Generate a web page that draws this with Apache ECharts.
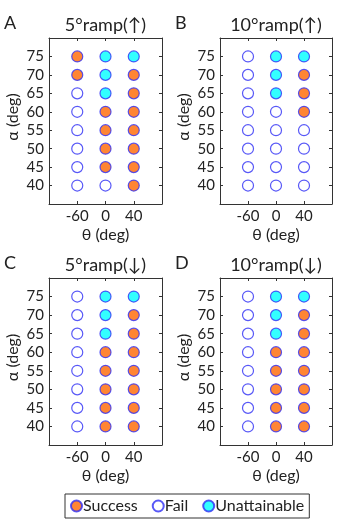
<!DOCTYPE html>
<html>
<head>
<meta charset="utf-8">
<script src="https://cdn.jsdelivr.net/npm/echarts@6/dist/echarts.min.js"></script>
<style>
  html, body { margin: 0; padding: 0; background: #fff; }
  #chart { width: 339px; height: 526px; }
</style>
</head>
<body>
<div id="chart"></div>
<script>
// rows (alpha, deg) and columns (theta, deg)
const alphaValues = [75, 70, 65, 60, 55, 50, 45, 40];
const thetaLabels = ["-60", "0", "40"];
const statusNames = { S: "Success", F: "Fail", U: "Unattainable" };

// outcome per theta column, listed top (75) to bottom (40)
const rampUp5 = [
  ["S", "S", "F", "F", "F", "F", "F", "F"],
  ["U", "U", "U", "S", "S", "S", "S", "F"],
  ["U", "S", "S", "S", "S", "S", "S", "S"],
];
const rampUp10 = [
  ["F", "F", "F", "F", "F", "F", "F", "F"],
  ["U", "U", "U", "F", "F", "F", "F", "F"],
  ["U", "S", "S", "S", "F", "F", "F", "F"],
];
const rampDown5 = [
  ["F", "F", "F", "F", "F", "F", "F", "F"],
  ["U", "U", "U", "S", "S", "S", "S", "S"],
  ["U", "S", "S", "S", "S", "S", "S", "S"],
];
const rampDown10 = [
  ["F", "F", "F", "F", "F", "F", "F", "F"],
  ["U", "U", "U", "S", "S", "S", "S", "S"],
  ["U", "S", "S", "S", "S", "S", "S", "S"],
];

const panelTitles = ["5°ramp(↑)", "10°ramp(↑)", "5°ramp(↓)", "10°ramp(↓)"];
const panelLetters = ["A", "B", "C", "D"];
const panelData = [rampUp5, rampUp10, rampDown5, rampDown10];

const FONT = "Lato";
const TXT = "#222";
const EDGE = "#2e2ef5";
const markStyle = {
  Success: { color: "#ff6600", borderColor: EDGE, borderWidth: 1.2 },
  Fail: { color: "#ffffff", borderColor: EDGE, borderWidth: 1.2 },
  Unattainable: { color: "#00ffff", borderColor: EDGE, borderWidth: 1.2 },
};

// plot boxes [left, top, width, height]
const boxes = [
  [49, 38, 113, 166],
  [220, 38, 112, 166],
  [49, 278, 113, 167],
  [220, 278, 112, 167],
];

const grids = [], xAxes = [], yAxes = [], series = [], titles = [], graphics = [];

boxes.forEach((b, i) => {
  grids.push({ left: b[0], top: b[1], width: b[2], height: b[3] });
  const tick = { show: true, inside: true, length: 3, lineStyle: { color: "#333" } };
  const line = { show: true, onZero: false, lineStyle: { color: "#333", width: 1 } };
  // bottom + mirrored top
  xAxes.push({
    type: "value", gridIndex: i, min: -1, max: 3, interval: 1, position: "bottom",
    axisLine: line, axisTick: tick, splitLine: { show: false },
    axisLabel: {
      color: TXT, fontFamily: FONT, fontSize: 15, margin: 5,
      formatter: (v) => thetaLabels[v] || "",
    },
  });
  xAxes.push({
    type: "value", gridIndex: i, min: -1, max: 3, interval: 1, position: "top",
    axisLine: line, axisTick: tick, splitLine: { show: false }, axisLabel: { show: false },
  });
  // left + mirrored right
  yAxes.push({
    type: "value", gridIndex: i, min: 35, max: 80, interval: 5, position: "left",
    axisLine: line, axisTick: tick, splitLine: { show: false },
    axisLabel: {
      color: TXT, fontFamily: FONT, fontSize: 15, margin: 5,
      showMinLabel: false, showMaxLabel: false,
    },
  });
  yAxes.push({
    type: "value", gridIndex: i, min: 35, max: 80, interval: 5, position: "right",
    axisLine: line, axisTick: tick, splitLine: { show: false }, axisLabel: { show: false },
  });

  // one scatter series per outcome
  const buckets = { Success: [], Fail: [], Unattainable: [] };
  panelData[i].forEach((col, c) => {
    col.forEach((s, r) => buckets[statusNames[s]].push([c, alphaValues[r]]));
  });
  Object.keys(buckets).forEach((name) => {
    series.push({
      name, type: "scatter", xAxisIndex: i * 2, yAxisIndex: i * 2,
      symbol: "circle", symbolSize: 11,
      itemStyle: markStyle[name], data: buckets[name],
    });
  });

  const cx = b[0] + b[2] / 2;
  titles.push({
    text: panelTitles[i], left: cx, top: b[1] - 22, textAlign: "center", padding: 0,
    textStyle: { fontFamily: FONT, fontSize: 18, fontWeight: "normal", color: TXT },
  });
  titles.push({
    text: panelLetters[i], left: b[0] - 45, top: b[1] - 24, padding: 0,
    textStyle: { fontFamily: FONT, fontSize: 18, fontWeight: "normal", color: TXT },
  });
  graphics.push({
    type: "text", x: cx, y: b[1] + b[3] + 31,
    style: { text: "θ (deg)", fontFamily: FONT, fontSize: 16, fill: TXT, align: "center", verticalAlign: "middle" },
  });
  graphics.push({
    type: "text", x: b[0] - 36, y: b[1] + b[3] / 2 - 4, rotation: Math.PI / 2,
    style: { text: "α (deg)", fontFamily: FONT, fontSize: 16, fill: TXT, align: "center", verticalAlign: "middle" },
  });
});

const chart = echarts.init(document.getElementById("chart"));
chart.setOption({
  animation: false,
  title: titles,
  grid: grids,
  xAxis: xAxes,
  yAxis: yAxes,
  series,
  graphic: graphics,
  legend: {
    data: ["Success", "Fail", "Unattainable"],
    left: 65, top: 494,
    icon: "circle", itemWidth: 11, itemHeight: 11, itemGap: 14,
    padding: [4, 5, 4, 5],
    borderColor: "#333", borderWidth: 1,
    textStyle: { fontFamily: FONT, fontSize: 16, color: TXT, padding: [0, 0, 0, -4] },
  },
});
</script>
</body>
</html>
